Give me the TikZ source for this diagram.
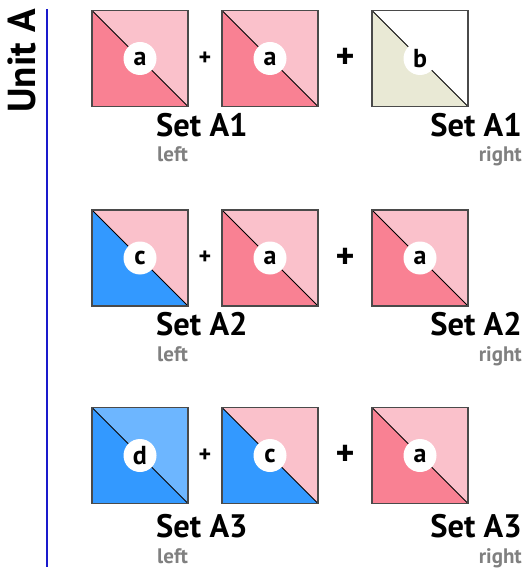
\documentclass[tikz,border=0pt]{standalone}
\usepackage{fontspec}
\setmainfont{PT Sans}
\definecolor{pinkD}{HTML}{F98193}
\definecolor{pinkL}{HTML}{FAC1CB}
\definecolor{blueD}{HTML}{3399FF}
\definecolor{blueL}{HTML}{6DB6FF}
\definecolor{beige}{HTML}{E9E9D5}
\definecolor{edge}{HTML}{4A4A4A}
\definecolor{unitline}{HTML}{1A1ACC}
\definecolor{subgray}{HTML}{808080}
\tikzset{
  sq/.style 2 args={minimum size=96pt, inner sep=0pt, draw=edge, line width=1.6pt,
    path picture={
      \fill[#1] (path picture bounding box.north west) -- (path picture bounding box.south west) -- (path picture bounding box.south east) -- cycle;
      \fill[#2] (path picture bounding box.north west) -- (path picture bounding box.north east) -- (path picture bounding box.south east) -- cycle;
      \draw[black, line width=1pt] (path picture bounding box.north west) -- (path picture bounding box.south east);
    }},
  circ/.style={circle, fill=white, minimum size=33pt, inner sep=0pt, font=\bfseries\fontsize{26}{28}\selectfont},
  plussmall/.style={font=\bfseries\fontsize{24}{26}\selectfont, inner sep=0pt},
  plusbig/.style={font=\bfseries\fontsize{36}{38}\selectfont, inner sep=0pt},
  setlbl/.style={font=\bfseries\fontsize{32.5}{34}\selectfont, inner sep=0pt},
  sublbl/.style={font=\bfseries\fontsize{21}{22}\selectfont, text=subgray, inner sep=0pt},
}
\begin{document}
\begin{tikzpicture}[x=1pt,y=-1pt]
\useasboundingbox (0,0) rectangle (528,569);
% unit label and line
\node[font=\bfseries\fontsize{39}{40}\selectfont, rotate=90, anchor=base east, inner sep=0pt] (unit) at (35,9) {Unit A};
\coordinate (lt) at (47,9);
\coordinate (lb) at (47,567);
\draw[unitline, line width=1.8pt] (lt) -- (lb);
% row 1
\node[sq={pinkD}{pinkL}] (s11) at (140,58.5) {};
\node[sq={pinkD}{pinkL}] (s12) at (270,58.5) {};
\node[sq={beige}{white}] (s13) at (420,58.5) {};
\node[circ] (c11) at (s11) {a};
\node[circ] (c12) at (s12) {a};
\node[circ] (c13) at (s13) {b};
\node[plussmall] (p11) at (205,58.5) {+};
\node[plusbig] (p12) at (345,58.5) {+};
\node[setlbl, anchor=base west] (l1) at (156,137) {Set A1};
\node[sublbl, anchor=base west] (l1s) at (157,162) {left};
\node[setlbl, anchor=base east] (r1) at (522,137) {Set A1};
\node[sublbl, anchor=base east] (r1s) at (522,162) {right};
% row 2
\node[sq={blueD}{pinkL}] (s21) at (140,258) {};
\node[sq={pinkD}{pinkL}] (s22) at (270,258) {};
\node[sq={pinkD}{pinkL}] (s23) at (420,258) {};
\node[circ] (c21) at (s21) {c};
\node[circ] (c22) at (s22) {a};
\node[circ] (c23) at (s23) {a};
\node[plussmall] (p21) at (205,258) {+};
\node[plusbig] (p22) at (345,258) {+};
\node[setlbl, anchor=base west] (l2) at (156,335) {Set A2};
\node[sublbl, anchor=base west] (l2s) at (157,361) {left};
\node[setlbl, anchor=base east] (r2) at (522,335) {Set A2};
\node[sublbl, anchor=base east] (r2s) at (522,361) {right};
% row 3
\node[sq={blueD}{blueL}] (s31) at (140,455.5) {};
\node[sq={blueD}{pinkL}] (s32) at (270,455.5) {};
\node[sq={pinkD}{pinkL}] (s33) at (420,455.5) {};
\node[circ] (c31) at (s31) {d};
\node[circ] (c32) at (s32) {c};
\node[circ] (c33) at (s33) {a};
\node[plussmall] (p31) at (205,455.5) {+};
\node[plusbig] (p32) at (345,455.5) {+};
\node[setlbl, anchor=base west] (l3) at (156,537) {Set A3};
\node[sublbl, anchor=base west] (l3s) at (157,563) {left};
\node[setlbl, anchor=base east] (r3) at (522,537) {Set A3};
\node[sublbl, anchor=base east] (r3s) at (522,563) {right};
\end{tikzpicture}
\end{document}
